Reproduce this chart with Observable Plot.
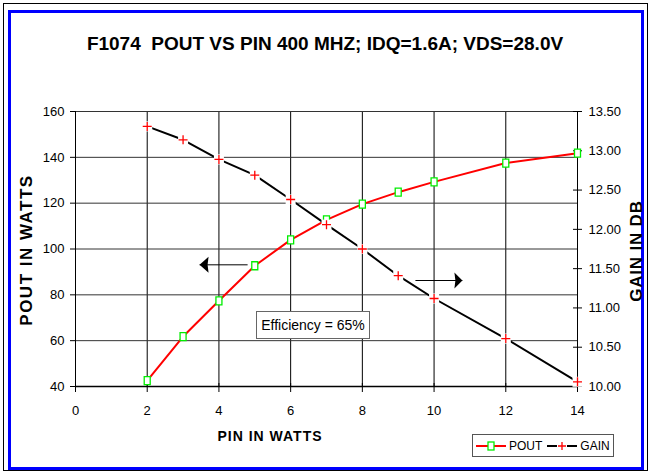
<!DOCTYPE html>
<html>
<head>
<meta charset="utf-8">
<script src="https://cdn.jsdelivr.net/npm/d3@7"></script>
<script src="https://cdn.jsdelivr.net/npm/@observablehq/plot@0.6"></script>
<style>
  html, body { margin: 0; padding: 0; background: #fff; }
  #page { position: relative; width: 649px; height: 473px; overflow: hidden; font-family: "Liberation Sans", Arial, sans-serif; color: #000; }
  .abs { position: absolute; white-space: nowrap; }
  #outer { left: 3px; top: 3px; width: 645px; height: 468px; border: 1px solid #000; box-sizing: border-box; }
  #blue { left: 8px; top: 10px; width: 636px; height: 460px; border: 3px solid #0000ff; box-sizing: border-box; }
  #chart { left: 0; top: 0; }
  .lbl { font-weight: bold; line-height: 1; transform: translate(-50%, -50%); }
  .rot { transform: translate(-50%, -50%) rotate(-90deg); }
  #eff { left: 256px; top: 311px; width: 114px; height: 28px; border: 1px solid #666; background: #fff; box-sizing: border-box; font-size: 14px; line-height: 26px; text-align: center; }
  #legend { left: 472px; top: 434px; width: 142px; height: 23px; border: 1px solid #555; background: #fff; box-sizing: border-box; font-size: 12px; }
</style>
</head>
<body>
<div id="page">
  <div id="outer" class="abs"></div>
  <div id="blue" class="abs"></div>
  <div id="chart" class="abs"></div>
  <div class="abs lbl" style="left:325px; top:43px; font-size:19px;">F1074&nbsp; POUT VS PIN 400 MHZ; IDQ=1.6A; VDS=28.0V</div>
  <div class="abs lbl rot" style="left:26px; top:250px; font-size:17px; letter-spacing:1.5px;">POUT IN WATTS</div>
  <div class="abs lbl rot" style="left:636px; top:251px; font-size:17px; letter-spacing:0.8px;">GAIN IN DB</div>
  <div class="abs lbl" style="left:270px; top:436px; font-size:14px; letter-spacing:1px;">PIN IN WATTS</div>
  <div id="eff" class="abs">Efficiency = 65%</div>
  <div id="legend" class="abs"></div>
</div>
<script>
// ---- data ----
const pinWatts = [2, 3, 4, 5, 6, 7, 8, 9, 10, 12, 14];
const poutWatts = [42.6, 61.8, 77.4, 92.7, 104.0, 112.7, 119.6, 124.8, 129.3, 137.5, 141.8];
const gainDb = [13.31, 13.14, 12.89, 12.69, 12.38, 12.06, 11.75, 11.41, 11.12, 10.61, 10.06];
const xTicks = [0, 2, 4, 6, 8, 10, 12, 14];
const poutTicks = [40, 60, 80, 100, 120, 140, 160];
const gainTicks = [10.0, 10.5, 11.0, 11.5, 12.0, 12.5, 13.0, 13.5];
// annotation arrows (data coordinates, x in watts in, y in pout watts)
const leftArrow = [{tip: 3.46, tail: 4.80, y: 93.1}];
const rightArrow = [{tip: 10.79, tail: 9.48, y: 86.25}];

// gain (right axis) mapped onto the left pout scale
const g0 = gainTicks[0], g1 = gainTicks[gainTicks.length - 1];
const p0 = poutTicks[0], p1 = poutTicks[poutTicks.length - 1];
const toY = g => p0 + (g - g0) * (p1 - p0) / (g1 - g0);
const fromY = y => g0 + (y - p0) * (g1 - g0) / (p1 - p0);

const rows = pinWatts.map((x, i) => ({x, pout: poutWatts[i], gain: gainDb[i], gy: toY(gainDb[i])}));

const rectSym = {draw(ctx) { ctx.rect(-3, -4, 6, 8); }};
const bgSym = {draw(ctx) { ctx.rect(-5, -5, 10, 10); }};
const headLeft = {draw(ctx) { ctx.moveTo(0, 0); ctx.lineTo(9, -8); ctx.lineTo(8, 0); ctx.lineTo(9, 8); ctx.closePath(); }};
const headRight = {draw(ctx) { ctx.moveTo(0, 0); ctx.lineTo(-8, -8); ctx.lineTo(-7, 0); ctx.lineTo(-8, 8); ctx.closePath(); }};

const chart = Plot.plot({
  width: 649, height: 473,
  marginLeft: 75, marginRight: 72, marginTop: 111, marginBottom: 87,
  style: {background: "transparent", fontFamily: "'Liberation Sans', Arial, sans-serif", fontSize: "13px", color: "#000", overflow: "visible"},
  x: {domain: [xTicks[0], xTicks[xTicks.length - 1]]},
  y: {domain: [p0, p1]},
  marks: [
    Plot.ruleX(xTicks.slice(1, -1), {stroke: "#000", strokeWidth: 1}),
    Plot.ruleY(poutTicks.slice(1), {stroke: "#333", strokeWidth: 1}),
    Plot.ruleX([xTicks[0], xTicks[xTicks.length - 1]], {stroke: "#000", strokeWidth: 1}),
    Plot.ruleY([p0], {stroke: "#000", strokeWidth: 1.3}),
    Plot.axisX({ticks: xTicks, tickSize: 6, tickPadding: 13, label: null, tickFormat: d => String(d)}),
    Plot.tickX(xTicks, {x: d => d, insetTop: 272, stroke: "#000"}),
    Plot.axisY({ticks: poutTicks, tickSize: 5, tickPadding: 6, label: null, tickFormat: d => String(d)}),
    Plot.axisY(gainTicks.map(toY), {anchor: "right", tickSize: 4, tickPadding: 7, label: null, tickFormat: d => fromY(d).toFixed(2)}),
    Plot.tickY(gainTicks.map(toY), {y: d => d, insetLeft: 498, stroke: "#000"}),
    Plot.line(rows, {x: "x", y: "pout", stroke: "#ff0000", strokeWidth: 2}),
    Plot.dot(rows, {x: "x", y: "pout", symbol: rectSym, fill: "#fff", stroke: "#00ee00", strokeWidth: 1.3}),
    Plot.line(rows, {x: "x", y: "gy", stroke: "#000", strokeWidth: 2}),
    Plot.dot(rows, {x: "x", y: "gy", symbol: bgSym, fill: "#fff", stroke: "none"}),
    Plot.dot(rows, {x: "x", y: "gy", symbol: "plus", r: 3, fill: "none", stroke: "#ff0000", strokeWidth: 1.3}),
    Plot.link(leftArrow, {x1: "tip", x2: "tail", y1: "y", y2: "y", stroke: "#000", strokeWidth: 1}),
    Plot.dot(leftArrow, {x: "tip", y: "y", symbol: headLeft, fill: "#000", stroke: "none"}),
    Plot.link(rightArrow, {x1: "tail", x2: "tip", y1: "y", y2: "y", stroke: "#000", strokeWidth: 1}),
    Plot.dot(rightArrow, {x: "tip", y: "y", symbol: headRight, fill: "#000", stroke: "none"})
  ]
});
document.getElementById("chart").appendChild(chart);

// legend
const legendItems = [
  {name: "POUT", line: "#ff0000", marker: "square"},
  {name: "GAIN", line: "#000000", marker: "plus"}
];
const lg = document.getElementById("legend");
lg.innerHTML = legendItems.map(it => {
  const m = it.marker === "square"
    ? `<rect x="13" y="6" width="6" height="8" fill="#fff" stroke="#00ee00" stroke-width="1.3"/>`
    : `<rect x="11" y="5" width="10" height="10" fill="#fff"/><path d="M16,6V14M12,10H20" stroke="#ff0000" stroke-width="1.3"/>`;
  return `<span style="display:inline-flex;align-items:center;height:21px;"><svg width="32" height="20" style="display:block"><line x1="1" x2="31" y1="10" y2="10" stroke="${it.line}" stroke-width="2"/>${m}</svg><span style="margin-left:2px;margin-right:4px;">${it.name}</span></span>`;
}).join("");
lg.style.display = "flex";
lg.style.alignItems = "center";
lg.style.paddingLeft = "2px";
</script>
</body>
</html>
